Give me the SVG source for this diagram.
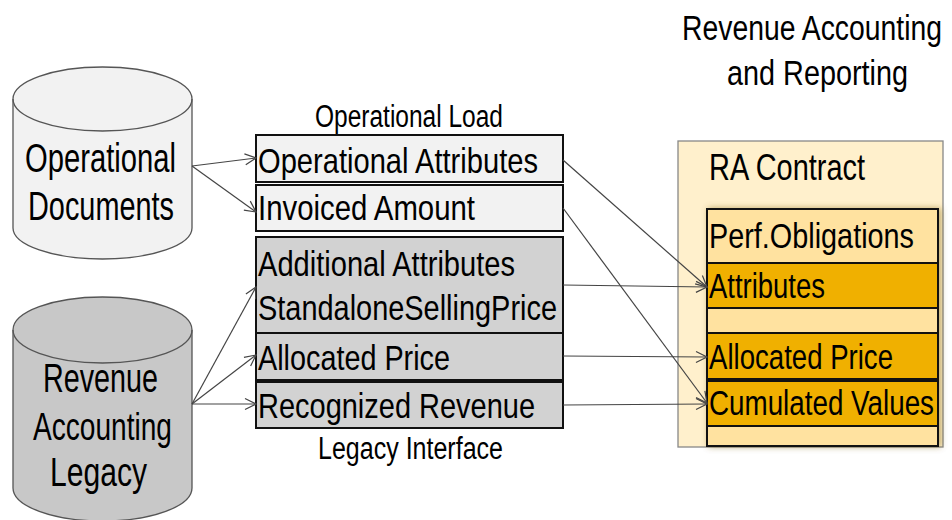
<svg xmlns="http://www.w3.org/2000/svg" width="952" height="520" viewBox="0 0 952 520">
<style>
text{font-family:"Liberation Sans",Arial,sans-serif;fill:#000}
.cyl{stroke:#555;stroke-width:1.3}
.box{stroke:#111;stroke-width:2}
.lt{fill:#f2f2f2}
.gr{fill:#d2d2d2}
.po{fill:#ffe2a0}
.au{fill:#f0b000}
.conn{stroke:#444;stroke-width:1.2;fill:none;marker-end:url(#arr)}
</style>
<defs>
<marker id="arr" markerUnits="userSpaceOnUse" markerWidth="14" markerHeight="14" refX="12" refY="7" orient="auto">
<path d="M1,1.5 L12,7 L1,12.5" fill="none" stroke="#444" stroke-width="1.2"/>
</marker>
<filter id="sh" x="-10%" y="-10%" width="120%" height="120%">
<feGaussianBlur in="SourceAlpha" stdDeviation="3"/>
<feOffset dx="2" dy="0" result="b"/>
<feFlood flood-color="#7a5a10" flood-opacity="0.5"/>
<feComposite in2="b" operator="in"/>
<feMerge><feMergeNode/><feMergeNode in="SourceGraphic"/></feMerge>
</filter>
</defs>
<rect width="952" height="520" fill="#fff"/>

<g id="title">
<text transform="translate(682,40) scale(1,1.22)" font-size="28.2" textLength="260" lengthAdjust="spacingAndGlyphs">Revenue Accounting</text>
<text transform="translate(727,85) scale(1,1.22)" font-size="28.6" textLength="181" lengthAdjust="spacingAndGlyphs">and Reporting</text>
</g>

<g id="operational-documents">
<path class="cyl" fill="#f2f2f2" d="M13,99 A89.5,32 0 0,1 192,99 L192,228 A89.5,31 0 0,1 13,228 Z"/>
<path class="cyl" fill="none" d="M13,99 A89.5,32 0 0,0 192,99"/>
<text transform="translate(25,172) scale(1,1.38)" font-size="29" textLength="151" lengthAdjust="spacingAndGlyphs">Operational</text>
<text transform="translate(28,220) scale(1,1.38)" font-size="29" textLength="146" lengthAdjust="spacingAndGlyphs">Documents</text>
</g>

<g id="revenue-accounting-legacy">
<path class="cyl" fill="#c8c8c8" d="M13,330 A89.5,33 0 0,1 192,330 L192,488 A89.5,33 0 0,1 13,488 Z"/>
<path class="cyl" fill="none" d="M13,330 A89.5,33 0 0,0 192,330"/>
<text transform="translate(43,392) scale(1,1.38)" font-size="29" textLength="115" lengthAdjust="spacingAndGlyphs">Revenue</text>
<text transform="translate(33,440) scale(1,1.38)" font-size="28.5" textLength="139" lengthAdjust="spacingAndGlyphs">Accounting</text>
<text transform="translate(50,486) scale(1,1.38)" font-size="29" textLength="97" lengthAdjust="spacingAndGlyphs">Legacy</text>
</g>

<g id="operational-load">
<text transform="translate(315,127) scale(1,1.25)" font-size="24.5" textLength="188" lengthAdjust="spacingAndGlyphs">Operational Load</text>
</g>

<g id="operational-attributes">
<rect class="box lt" x="256" y="135" width="307" height="47"/>
<text transform="translate(258,173) scale(1,1.2)" font-size="29" textLength="280" lengthAdjust="spacingAndGlyphs">Operational Attributes</text>
</g>
<g id="invoiced-amount">
<rect class="box lt" x="256" y="185" width="307" height="46"/>
<text transform="translate(258,220) scale(1,1.2)" font-size="29" textLength="217" lengthAdjust="spacingAndGlyphs">Invoiced Amount</text>
</g>
<g id="additional-attributes">
<rect class="box gr" x="256" y="237" width="307" height="96"/>
<text transform="translate(258,276) scale(1,1.2)" font-size="29" textLength="257" lengthAdjust="spacingAndGlyphs">Additional Attributes</text>
<text transform="translate(258,320) scale(1,1.2)" font-size="29" textLength="299" lengthAdjust="spacingAndGlyphs">StandaloneSellingPrice</text>
</g>
<g id="allocated-price-legacy">
<rect class="box gr" x="256" y="333" width="307" height="47"/>
<text transform="translate(258,370) scale(1,1.2)" font-size="29" textLength="192" lengthAdjust="spacingAndGlyphs">Allocated Price</text>
</g>
<g id="recognized-revenue">
<rect class="box gr" x="256" y="382" width="307" height="46"/>
<text transform="translate(258,418) scale(1,1.2)" font-size="29" textLength="277" lengthAdjust="spacingAndGlyphs">Recognized Revenue</text>
</g>
<g id="legacy-interface">
<text transform="translate(318,459) scale(1,1.25)" font-size="25" textLength="185" lengthAdjust="spacingAndGlyphs">Legacy Interface</text>
</g>

<g id="ra-contract">
<rect x="678" y="141" width="265" height="306" fill="#fff0cc" stroke="#888" stroke-width="1.3"/>
<text transform="translate(709,180) scale(1,1.26)" font-size="28.6" textLength="156" lengthAdjust="spacingAndGlyphs">RA Contract</text>
<g filter="url(#sh)">
<rect class="box po" x="707" y="209" width="231" height="237"/>
</g>
</g>
<g id="perf-obligations">
<rect class="box po" x="707" y="209" width="231" height="54"/>
<text transform="translate(709,248) scale(1,1.25)" font-size="28.5" textLength="205" lengthAdjust="spacingAndGlyphs">Perf.Obligations</text>
</g>
<g id="attributes">
<rect class="box au" x="707" y="263" width="231" height="45"/>
<text transform="translate(709,298) scale(1,1.27)" font-size="27.5" textLength="116" lengthAdjust="spacingAndGlyphs">Attributes</text>
</g>
<g id="spacer-1">
<rect class="box po" x="707" y="308" width="231" height="25"/>
</g>
<g id="allocated-price">
<rect class="box au" x="707" y="333" width="231" height="46"/>
<text transform="translate(709,369) scale(1,1.27)" font-size="27.5" textLength="184" lengthAdjust="spacingAndGlyphs">Allocated Price</text>
</g>
<g id="cumulated-values">
<rect class="box au" x="707" y="381" width="231" height="45"/>
<text transform="translate(709,415) scale(1,1.27)" font-size="27.5" textLength="225" lengthAdjust="spacingAndGlyphs">Cumulated Values</text>
</g>
<g id="spacer-2">
<rect class="box po" x="707" y="426" width="231" height="20"/>
</g>

<g id="connectors">
<path class="conn" d="M192,166 L256,158"/>
<path class="conn" d="M192,166 L256,212"/>
<path class="conn" d="M192,404 L256,287"/>
<path class="conn" d="M192,404 L256,355"/>
<path class="conn" d="M192,404 L256,404"/>
<path class="conn" d="M563,160 L707,287"/>
<path class="conn" d="M563,208 L707,403"/>
<path class="conn" d="M563,285 L707,287"/>
<path class="conn" d="M563,356 L707,357"/>
<path class="conn" d="M563,405 L707,404"/>
</g>
</svg>
